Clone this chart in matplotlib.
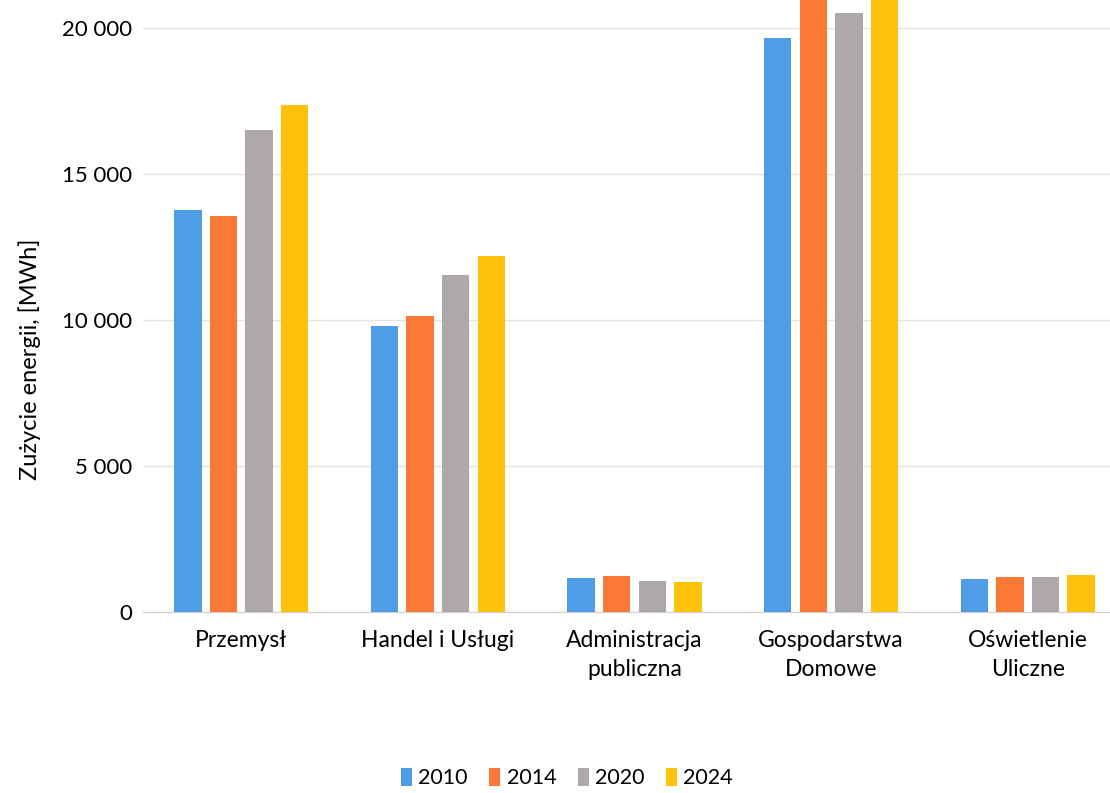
import matplotlib.pyplot as plt
import numpy as np

plt.rcParams["font.family"] = ["Lato", "DejaVu Sans"]

categories = ["Przemysł", "Handel i Usługi", "Administracja\npubliczna",
              "Gospodarstwa\nDomowe", "Oświetlenie\nUliczne"]
years = ["2010", "2014", "2020", "2024"]
v2010 = [13770, 9800, 1160, 19660, 1130]
v2014 = [13560, 10140, 1230, 21500, 1200]
v2020 = [16510, 11540, 1060, 20510, 1200]
v2024 = [17360, 12190, 1030, 21800, 1270]
series = [v2010, v2014, v2020, v2024]
colors = ["#4F9DE6", "#FA7A35", "#AEA8AB", "#FFC20A"]

fig = plt.figure(figsize=(11.1, 7.93), dpi=100)
ax = fig.add_axes([143 / 1110, 181 / 793, 983 / 1110, 612 / 793])

x = np.arange(len(categories))
step, width = 0.181, 0.14
for i, (vals, col, yr) in enumerate(zip(series, colors, years)):
    ax.bar(x + (i - 1.5) * step, vals, width=width, color=col, label=yr, zorder=3)

ax.set_xlim(-0.5, 4.5)
ax.set_ylim(0, 20959)
ax.set_yticks([0, 5000, 10000, 15000, 20000])
ax.set_yticklabels(["0", "5 000", "10 000", "15 000", "20 000"], fontsize=16)
ax.set_xticks(x)
ax.set_xticklabels(categories, fontsize=16.5, linespacing=1.45)
ax.tick_params(axis="y", length=0, pad=8)
ax.tick_params(axis="x", length=0, pad=13)
ax.grid(axis="y", color="#E3E3E3", lw=1, zorder=0)
for s in ["top", "right", "left"]:
    ax.spines[s].set_visible(False)
ax.spines["bottom"].set_color("#D0D0D0")
ax.set_ylabel("Zużycie energii, [MWh]", fontsize=17)
ax.yaxis.set_label_coords(-102 / 983, 1 - 359 / 612)

fig.legend(loc="center", bbox_to_anchor=(567 / 1110, 1 - 778 / 793), ncol=4,
           frameon=False, fontsize=15.5, handlelength=0.5, handleheight=0.9,
           handletextpad=0.3, columnspacing=1.0)

fig.savefig("out.png", dpi=100)
